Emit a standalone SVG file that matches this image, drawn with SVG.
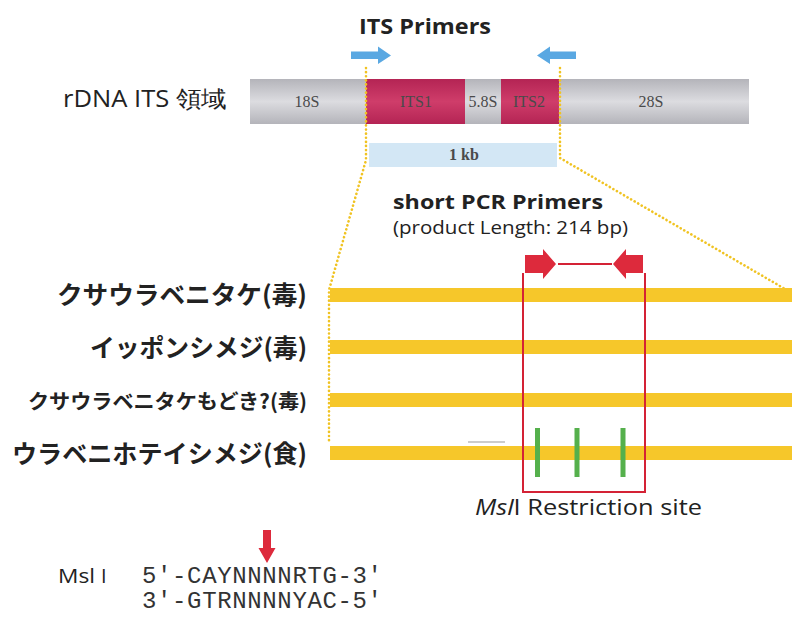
<svg xmlns="http://www.w3.org/2000/svg" width="792" height="619" viewBox="0 0 792 619">
<defs>
<linearGradient id="gGray" x1="0" y1="0" x2="0" y2="1">
<stop offset="0" stop-color="#b4b4ba"/><stop offset="0.5" stop-color="#dcdce0"/><stop offset="1" stop-color="#b4b4ba"/>
</linearGradient>
<linearGradient id="gRed" x1="0" y1="0" x2="0" y2="1">
<stop offset="0" stop-color="#b42454"/><stop offset="0.5" stop-color="#cf3d6a"/><stop offset="1" stop-color="#b42454"/>
</linearGradient>
<style>
.sans{font-family:"Open Sans","Liberation Sans",sans-serif;fill:#222}
.jp{font-family:"Noto Sans CJK JP",sans-serif;font-weight:bold;fill:#222;text-anchor:end}
.ser{font-family:"Liberation Serif",serif;font-size:16px;text-anchor:middle;fill:#4a4a4a}
.mono{font-family:"Liberation Mono",monospace;font-size:24px;fill:#333}
.dot{fill:none;stroke:#f0c322;stroke-width:2.6;stroke-dasharray:0.1 4;stroke-linecap:round}
.bar{fill:#f6c72a}
.blue{fill:#5aa8e2}
.red{fill:#dd2a3c}
.redline{fill:none;stroke:#d42235;stroke-width:2}
.green{fill:#55b04c}
</style>
</defs>
<rect width="792" height="619" fill="#fff"/>

<g id="title-its">
<text class="sans" x="359" y="34" font-size="22" font-weight="bold" textLength="132" lengthAdjust="spacingAndGlyphs">ITS Primers</text>
</g>
<g id="its-primers">
<path class="blue" d="M351 51.5H378V46.5L391 55.5L378 64V59H351Z"/>
<path class="blue" d="M576 51.5H550V46.5L537 55.5L550 64V59H576Z"/>
</g>
<g id="rdna-label">
<text class="sans" x="63" y="107" font-size="23" textLength="164" lengthAdjust="spacingAndGlyphs">rDNA ITS 領域</text>
</g>
<g id="rdna">
<rect x="250" y="79" width="499" height="45" fill="url(#gGray)"/>
<rect x="366" y="79" width="99" height="45" fill="url(#gRed)"/>
<rect x="501" y="79" width="58" height="45" fill="url(#gRed)"/>
<text class="ser" x="307" y="107">18S</text>
<text class="ser" x="416" y="107" fill="#5a1a30">ITS1</text>
<text class="ser" x="483" y="107" font-size="15">5.8S</text>
<text class="ser" x="529" y="107" fill="#5a1a30">ITS2</text>
<text class="ser" x="651" y="107">28S</text>
</g>
<g id="kb-bar">
<rect x="369" y="143" width="188" height="24" fill="#d3e7f5"/>
<text class="ser" x="464" y="160" font-size="14" font-weight="bold" fill="#333">1 kb</text>
</g>

<g id="connectors">
<path class="dot" d="M366 68V160L329 290V444"/>
<path class="dot" d="M560 68V158L785 289"/>
</g>

<g id="short-primers-label">
<text class="sans" x="393" y="209" font-size="20" font-weight="bold" textLength="210" lengthAdjust="spacingAndGlyphs">short PCR Primers</text>
<text class="sans" x="393" y="234" font-size="17.5" fill="#333" textLength="235" lengthAdjust="spacingAndGlyphs">(product Length: 214 bp)</text>
</g>
<g id="short-primers">
<path class="red" d="M525 255H543V249L556 264L543 279V273H525Z"/>
<path class="red" d="M643 255H626V249L613 264L626 279V273H643Z"/>
<line x1="558" y1="264" x2="612" y2="264" stroke="#d42235" stroke-width="2"/>
</g>

<g id="bars">
<rect class="bar" x="330" y="288" width="462" height="14"/>
<rect class="bar" x="330" y="340" width="462" height="14"/>
<rect class="bar" x="330" y="393" width="462" height="14"/>
<rect class="bar" x="330" y="446" width="462" height="14"/>
</g>
<g id="species">
<text class="jp" x="307" y="304" font-size="25" textLength="250" lengthAdjust="spacingAndGlyphs">クサウラベニタケ(毒)</text>
<text class="jp" x="307" y="357" font-size="25" textLength="217" lengthAdjust="spacingAndGlyphs">イッポンシメジ(毒)</text>
<text class="jp" x="307" y="409" font-size="20.5" textLength="279" lengthAdjust="spacingAndGlyphs">クサウラベニタケもどき?(毒)</text>
<text class="jp" x="307" y="463" font-size="25" textLength="295" lengthAdjust="spacingAndGlyphs">ウラベニホテイシメジ(食)</text>
</g>

<g id="restriction-box">
<path class="redline" d="M523 273V492H645V273"/>
<rect class="green" x="535" y="428" width="5" height="49"/>
<rect class="green" x="574.5" y="428" width="5" height="49"/>
<rect class="green" x="620.5" y="428" width="5" height="49"/>
<line x1="468" y1="442" x2="505" y2="442" stroke="#999" stroke-width="1"/>
<text class="sans" x="475" y="515" font-size="21" fill="#333" textLength="227" lengthAdjust="spacingAndGlyphs"><tspan font-style="italic">Msl</tspan>I Restriction site</text>
</g>

<g id="msli">
<text class="sans" x="58" y="583" font-size="20" fill="#222"><tspan textLength="37" lengthAdjust="spacingAndGlyphs">Msl</tspan><tspan x="101">I</tspan></text>
<text class="mono" x="142" y="583" textLength="240" lengthAdjust="spacing">5′-CAYNNNNRTG-3′</text>
<text class="mono" x="142" y="608" textLength="240" lengthAdjust="spacing">3′-GTRNNNNYAC-5′</text>
<path class="red" d="M263 530H271V548H275.5L267 563L258.5 548H263Z"/>
</g>
</svg>
